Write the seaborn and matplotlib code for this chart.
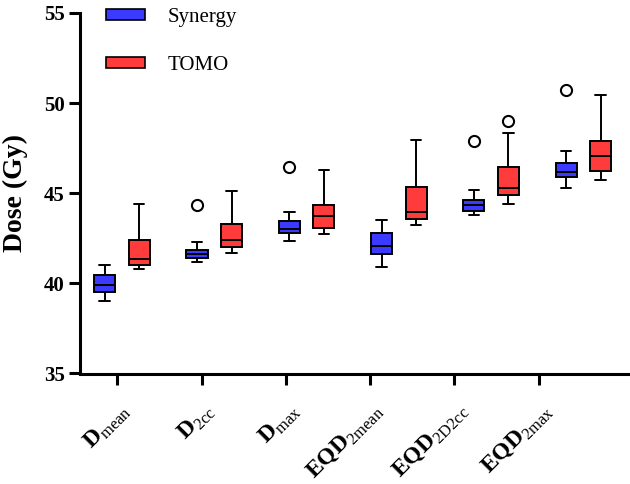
import numpy as np
import pandas as pd
import matplotlib
matplotlib.use('Agg')
import matplotlib.pyplot as plt
import matplotlib.transforms as mtransforms
from matplotlib.patches import Patch
import seaborn as sns

# categories and labels
categories = ['Dmean', 'D2cc', 'Dmax', 'EQD2mean', 'EQD2D2cc', 'EQD2max']
tick_labels = [r'$\mathbf{D}_{\mathrm{mean}}$', r'$\mathbf{D}_{\mathrm{2cc}}$',
               r'$\mathbf{D}_{\mathrm{max}}$', r'$\mathbf{EQD}_{\mathrm{2mean}}$',
               r'$\mathbf{EQD}_{\mathrm{2D2cc}}$', r'$\mathbf{EQD}_{\mathrm{2max}}$']
groups = ['Synergy', 'TOMO']
colors = ['#3b3bff', '#ff3b3b']

# per-patient doses (Gy)
synergy = [
    [39.0, 39.3, 39.52, 39.7, 39.91, 40.2, 40.44, 40.7, 41.02],
    [41.2, 41.3, 41.40, 41.5, 41.64, 41.75, 41.83, 42.29, 44.35],
    [42.36, 42.6, 42.81, 42.9, 43.0, 43.2, 43.44, 43.94, 46.47],
    [40.92, 41.3, 41.61, 41.85, 42.09, 42.4, 42.81, 43.1, 43.51],
    [43.77, 43.9, 44.03, 44.2, 44.33, 44.5, 44.62, 45.18, 47.9],
    [45.27, 45.6, 45.88, 46.0, 46.16, 46.4, 46.68, 47.36, 50.74],
]
tomo = [
    [40.8, 40.95, 41.03, 41.2, 41.33, 41.9, 42.4, 43.2, 44.4],
    [41.68, 41.85, 42.0, 42.2, 42.39, 42.8, 43.27, 44.0, 45.15],
    [42.72, 42.9, 43.05, 43.4, 43.73, 44.0, 44.36, 45.2, 46.27],
    [43.25, 43.4, 43.55, 43.75, 43.94, 44.6, 45.36, 46.5, 47.95],
    [44.4, 44.65, 44.88, 45.1, 45.31, 45.9, 46.44, 48.34, 49.0],
    [45.72, 46.0, 46.22, 46.6, 47.06, 47.5, 47.92, 49.0, 50.45],
]

rows = []
for grp, vals in zip(groups, [synergy, tomo]):
    for cat, v in zip(categories, vals):
        for d in v:
            rows.append({'metric': cat, 'system': grp, 'dose': d})
df = pd.DataFrame(rows)

sns.set_style('ticks')
plt.rcParams['font.family'] = ['Liberation Serif', 'DejaVu Serif']
plt.rcParams['mathtext.fontset'] = 'custom'
plt.rcParams['mathtext.rm'] = 'Liberation Serif'
plt.rcParams['mathtext.bf'] = 'Liberation Serif:bold'
for k in ['text.color', 'axes.labelcolor', 'xtick.color', 'ytick.color', 'axes.edgecolor']:
    plt.rcParams[k] = 'black'

fig, ax = plt.subplots(figsize=(6.3, 4.84), dpi=100)
fig.subplots_adjust(left=80/630, right=1.0, top=1-13/484, bottom=1-373.5/484)

sns.boxplot(data=df, x='metric', y='dose', hue='system', order=categories,
            hue_order=groups, palette=colors, saturation=1, width=0.748, gap=0.39,
            linewidth=1.4, linecolor='black', fliersize=8, legend=False,
            flierprops=dict(marker='o', markerfacecolor='white',
                            markeredgecolor='black', markeredgewidth=1.5),
            ax=ax)

ax.set_xlim(-0.455, 5.506)
ax.set_ylim(35, 55)
ax.set_yticks([35, 40, 45, 50, 55])
ax.tick_params(axis='y', labelsize=15, length=8, width=2.2, pad=3)
for t in ax.get_yticklabels():
    t.set_fontweight('bold')

tick_pos = [-0.057, 0.864, 1.778, 2.688, 3.602, 4.523]
ax.set_xticks(tick_pos)
ax.set_xticklabels(tick_labels, rotation=45, ha='right', va='center',
                   rotation_mode='anchor', fontsize=17)
ax.tick_params(axis='x', length=8, width=2.2, pad=6)
offset = mtransforms.ScaledTranslation(10/100, -14/100, fig.dpi_scale_trans)
for t in ax.get_xticklabels():
    t.set_transform(t.get_transform() + offset)

ax.set_xlabel('')
ax.set_ylabel('Dose (Gy)', fontsize=20, fontweight='bold')
ax.yaxis.set_label_coords(-0.095, 0.5)

sns.despine(ax=ax)
for s in ['left', 'bottom']:
    ax.spines[s].set_linewidth(2.2)

handles = [Patch(facecolor=c, edgecolor='black', linewidth=1.2) for c in colors]
fig.legend(handles, groups, loc='upper left', bbox_to_anchor=(106/630, 1-8/484),
           frameon=False, prop={'family': 'Liberation Serif', 'size': 15},
           handlelength=1.85, handleheight=0.4, handletextpad=1.1,
           labelspacing=1.38, borderpad=0, borderaxespad=0)

fig.savefig('out.png', dpi=100)
